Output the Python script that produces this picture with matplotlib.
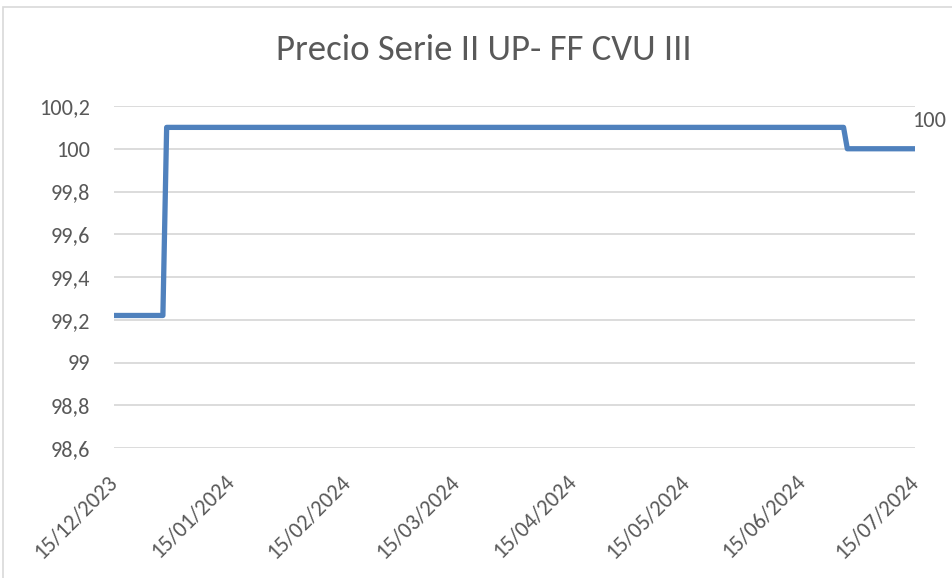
import pandas as pd
import matplotlib
matplotlib.use('Agg')
import matplotlib.pyplot as plt
import matplotlib.dates as mdates
from matplotlib import font_manager
from matplotlib.patches import Rectangle
from matplotlib.ticker import FuncFormatter

# Carlito si existe (métrica de Calibri), si no Lato
nombres = {f.name for f in font_manager.fontManager.ttflist}
fuente = 'Carlito' if 'Carlito' in nombres else 'Lato'
plt.rcParams['font.family'] = [fuente, 'DejaVu Sans']

# datos del gráfico
fechas = ['2023-12-15', '2023-12-28', '2023-12-29', '2024-06-26', '2024-06-27', '2024-07-15']
precios = [99.22, 99.22, 100.1, 100.1, 100.0, 100.0]
titulo = 'Precio Serie II UP- FF CVU III'
y_ticks = [98.6, 98.8, 99.0, 99.2, 99.4, 99.6, 99.8, 100.0, 100.2]

TXT = '#595959'
AZUL = '#4F81BD'
GRID = '#D9D9D9'
tam = 16 if fuente == 'Carlito' else 14

fechas = pd.to_datetime(fechas)

fig = plt.figure(figsize=(9.53, 5.78), dpi=100)
W, H = 953, 578
ax = fig.add_axes([114 / W, 1 - 448 / H, (915 - 114) / W, (448 - 106) / H])

# borde del área del gráfico
fig.patches.append(Rectangle((3.5 / W, -0.1), 1.2, 1 - 7 / H + 0.1, transform=fig.transFigure,
                             fill=False, edgecolor=GRID, linewidth=1.2))

ax.plot(fechas, precios, color=AZUL, linewidth=3.8, solid_joinstyle='round', solid_capstyle='round')

# etiqueta del último valor
ax.annotate(f'{precios[-1]:g}', (fechas[-1], precios[-1]), xytext=(-2, 13),
            textcoords='offset points', ha='left', va='bottom', fontsize=tam, color=TXT,
            annotation_clip=False)

ax.set_ylim(98.6, 100.2)
ax.set_yticks(y_ticks)
ax.yaxis.set_major_formatter(FuncFormatter(lambda v, p: f'{v:.1f}'.rstrip('0').rstrip('.').replace('.', ',')))
ax.set_xlim(fechas[0], fechas[-1])
ax.xaxis.set_major_locator(mdates.MonthLocator(bymonthday=15))
ax.xaxis.set_major_formatter(mdates.DateFormatter('%d/%m/%Y'))

ax.grid(axis='y', color=GRID, linewidth=1.3)
ax.set_axisbelow(True)
for s in ax.spines.values():
    s.set_visible(False)
ax.tick_params(axis='both', length=0, labelsize=tam, labelcolor=TXT)
ax.tick_params(axis='y', pad=17)
ax.tick_params(axis='x', pad=22)
for lbl in ax.get_xticklabels():
    lbl.set_rotation(45)
    lbl.set_ha('right')
    lbl.set_va('center')
    lbl.set_rotation_mode('anchor')

fig.text(484 / W, 1 - 50 / H, titulo, ha='center', va='center', fontsize=26.5,
         color=TXT)

fig.savefig('out.png', dpi=100)
